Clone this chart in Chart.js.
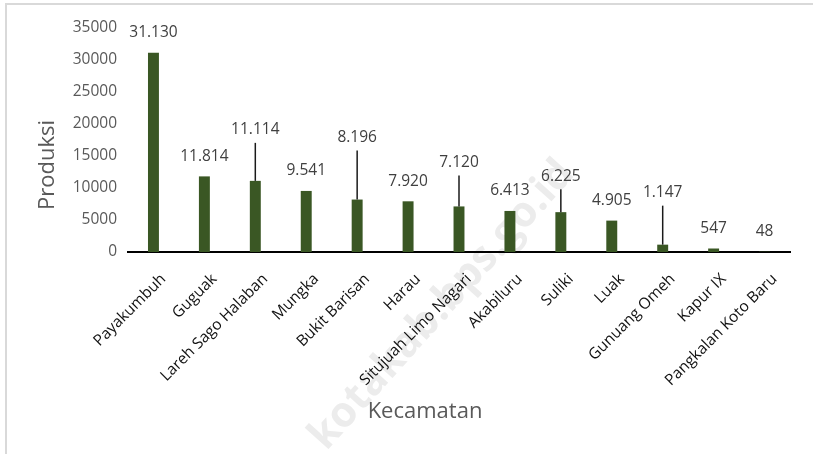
<!DOCTYPE html>
<html>
<head>
<meta charset="utf-8">
<script src="https://cdn.jsdelivr.net/npm/chart.js@4.4.1/dist/chart.umd.min.js"></script>
<style>
    html, body { margin: 0; background: #fff; }
    #wrap { position: relative; width: 813px; height: 454px; overflow: hidden; }
    #frame { position: absolute; left: 5px; top: 3px; right: -4px; bottom: -4px;
             border-left: 2px solid #d9d9d9; border-top: 2px solid #d9d9d9; }
    #plotCanvas { position: absolute; left: 0; top: 0; }
</style>
</head>
<body>
<div id="wrap">
    <div id="frame"></div>
    <canvas id="plotCanvas" width="813" height="454"></canvas>
</div>
<script>
const categories = [
    'Payakumbuh', 'Guguak', 'Lareh Sago Halaban', 'Mungka', 'Bukit Barisan', 'Harau',
    'Situjuah Limo Nagari', 'Akabiluru', 'Suliki', 'Luak', 'Gunuang Omeh', 'Kapur IX',
    'Pangkalan Koto Baru'
];
const production = [31130, 11814, 11114, 9541, 8196, 7920, 7120, 6413, 6225, 4905, 1147, 547, 48];
const yTicks = [0, 5000, 10000, 15000, 20000, 25000, 30000, 35000];

const FONT = '"Open Sans", "Liberation Sans", sans-serif';

// thousands separator with a dot, like 31.130
function fmt(v) {
    return String(v).replace(/\B(?=(\d{3})+(?!\d))/g, '.');
}

// how far (px) each value label sits above its bar; bigger ones get a leader line
const labelLift = [20, 20, 51, 20, 62, 20, 44, 20, 36, 20, 52, 20, 20];

const valueLabels = {
    id: 'valueLabels',
    afterDatasetsDraw(chart) {
        const ctx = chart.ctx;
        const meta = chart.getDatasetMeta(0);
        ctx.save();
        ctx.font = '15.5px ' + FONT;
        ctx.fillStyle = '#404040';
        ctx.textAlign = 'center';
        ctx.textBaseline = 'middle';
        meta.data.forEach((bar, i) => {
            const lift = labelLift[i];
            const ly = bar.y - lift;
            if (lift > 25) {
                ctx.beginPath();
                ctx.strokeStyle = '#1a1a1a';
                ctx.lineWidth = 1.5;
                ctx.moveTo(bar.x, bar.y);
                ctx.lineTo(bar.x, ly + 13);
                ctx.stroke();
            }
            ctx.fillText(fmt(production[i]), bar.x, ly);
        });
        ctx.restore();
    }
};

const axisTitles = {
    id: 'axisTitles',
    beforeDraw(chart) {
        // faint watermark behind everything
        const ctx = chart.ctx;
        ctx.save();
        ctx.translate(442, 305);
        ctx.rotate(-48 * Math.PI / 180);
        ctx.font = 'bold 42px ' + FONT;
        ctx.fillStyle = '#ececec';
        ctx.textAlign = 'center';
        ctx.textBaseline = 'middle';
        ctx.fillText('kotakab.bps.go.id', 0, 0);
        ctx.restore();
    },
    afterDraw(chart) {
        const ctx = chart.ctx;
        const ca = chart.chartArea;
        ctx.save();
        ctx.font = '22px ' + FONT;
        ctx.fillStyle = '#595959';
        ctx.textAlign = 'center';
        ctx.textBaseline = 'middle';
        ctx.fillText('Kecamatan', ca.left + 297, ca.bottom + 160);
        ctx.translate(ca.left - 80, ca.bottom - 87);
        ctx.rotate(-Math.PI / 2);
        ctx.fillText('Produksi', 0, 0);
        ctx.restore();
    }
};

const plotCtx = document.getElementById('plotCanvas').getContext('2d');
const myChart = new Chart(plotCtx, {
    type: 'bar',
    data: {
        labels: categories,
        datasets: [{
            label: 'Produksi',
            data: production,
            backgroundColor: '#3a5724',
            categoryPercentage: 1,
            barPercentage: 0.215
        }]
    },
    options: {
        responsive: false,
        animation: false,
        layout: { padding: { top: 28, right: 23, bottom: 42, left: 0 } },
        plugins: {
            legend: { display: false },
            tooltip: { enabled: false }
        },
        scales: {
            x: {
                grid: { display: false },
                border: { color: '#000', width: 2 },
                ticks: {
                    color: '#111',
                    font: { family: FONT, size: 15.5 },
                    maxRotation: 45,
                    minRotation: 45,
                    autoSkip: false,
                    labelOffset: 10,
                    padding: 10
                },
                afterFit(s) { s.height = 160; }
            },
            y: {
                min: 0,
                max: 35000,
                grid: { display: false, drawTicks: false },
                border: { display: false },
                afterBuildTicks(s) { s.ticks = yTicks.map(v => ({ value: v })); },
                ticks: {
                    color: '#595959',
                    font: { family: FONT, size: 15.5 },
                    padding: 11,
                    callback: v => String(v)
                },
                afterFit(s) { s.width = 128; }
            }
        }
    },
    plugins: [valueLabels, axisTitles]
});
</script>
</body>
</html>
